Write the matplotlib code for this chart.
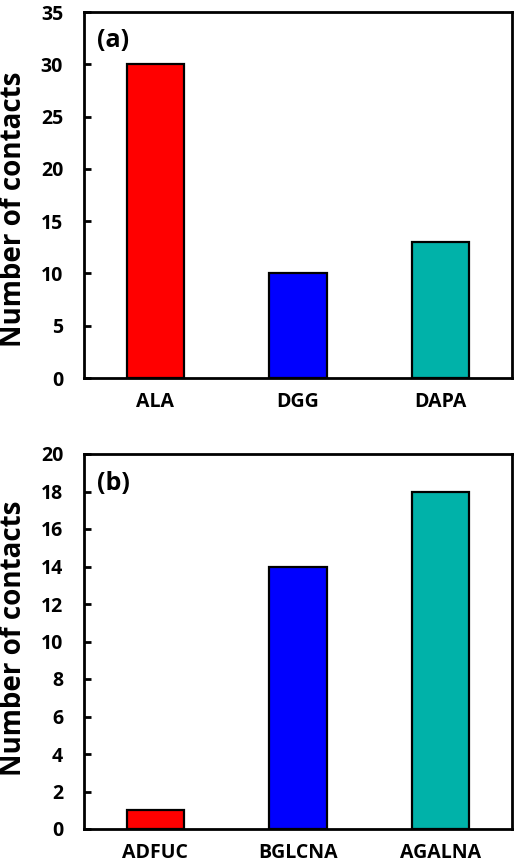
import matplotlib
matplotlib.use('Agg')
import matplotlib.pyplot as plt

# panel (a)
names_a = ['ALA', 'DGG', 'DAPA']
contacts_a = [30, 10, 13]
# panel (b)
names_b = ['ADFUC', 'BGLCNA', 'AGALNA']
contacts_b = [1, 14, 18]

bar_colors = ['#FF0000', '#0000FF', '#00B2A9']

plt.rcParams['font.family'] = ['Open Sans', 'DejaVu Sans']
plt.rcParams['font.weight'] = 'bold'

fig = plt.figure(figsize=(5.18, 8.64), dpi=100)
W, H = 518.0, 864.0
ax1 = fig.add_axes([84 / W, 1 - 378 / H, 428 / W, 366 / H])
ax2 = fig.add_axes([84 / W, 1 - 829 / H, 428 / W, 375 / H])


def draw(ax, names, vals, ymax, step, tag, label_y):
    ax.bar(range(len(names)), vals, width=0.4, color=bar_colors,
           edgecolor='black', linewidth=1.6)
    ax.set_xlim(-0.5, len(names) - 0.5)
    ax.set_ylim(0, ymax)
    ax.set_yticks(range(0, ymax + 1, step))
    ax.set_xticks(range(len(names)))
    ax.set_xticklabels(names)
    for s in ax.spines.values():
        s.set_linewidth(2)
    ax.tick_params(axis='y', direction='in', length=5, width=2, pad=15,
                   labelsize=14)
    ax.tick_params(axis='x', length=0, pad=10, labelsize=14)
    for lab in ax.get_xticklabels() + ax.get_yticklabels():
        lab.set_fontweight('bold')
    ax.set_ylabel('Number of contacts', fontsize=20, fontweight='bold')
    ax.yaxis.set_label_coords(-0.132, label_y)
    ax.text(0.03, 0.955, tag, transform=ax.transAxes, fontsize=18,
            fontweight='bold', va='top', ha='left')


draw(ax1, names_a, contacts_a, 35, 5, '(a)', 0.46)
draw(ax2, names_b, contacts_b, 20, 2, '(b)', 0.508)

fig.savefig('out.png', dpi=100)
